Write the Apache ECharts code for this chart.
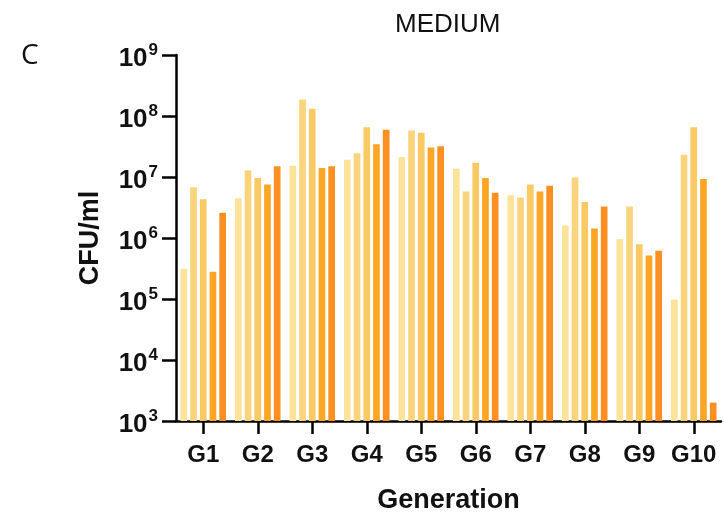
<!DOCTYPE html>
<html>
<head>
<meta charset="utf-8">
<script src="https://cdn.jsdelivr.net/npm/echarts@6/dist/echarts.min.js"></script>
<style>
html,body{margin:0;padding:0;background:#fff;}
#chart{width:724px;height:519px;}
</style>
</head>
<body>
<div id="chart"></div>
<script>
const categories = ['G1','G2','G3','G4','G5','G6','G7','G8','G9','G10'];
const rep1 = [3.1e5, 4.5e6, 1.53e7, 1.92e7, 2.12e7, 1.37e7, 5.0e6, 1.6e6, 9.5e5, 9.8e4];
const rep2 = [6.8e6, 1.28e7, 1.86e8, 2.46e7, 5.8e7, 5.8e6, 4.6e6, 9.8e6, 3.27e6, 2.32e7];
const rep3 = [4.3e6, 9.6e6, 1.31e8, 6.56e7, 5.3e7, 1.71e7, 7.5e6, 3.9e6, 7.9e5, 6.56e7];
const rep4 = [2.8e5, 7.5e6, 1.4e7, 3.45e7, 3.05e7, 9.6e6, 5.8e6, 1.43e6, 5.15e5, 9.25e6];
const rep5 = [2.6e6, 1.5e7, 1.5e7, 5.94e7, 3.2e7, 5.5e6, 7.2e6, 3.27e6, 6.2e5, 2.0e3];
const seriesNames = ['Rep 1','Rep 2','Rep 3','Rep 4','Rep 5'];
const seriesData = [rep1, rep2, rep3, rep4, rep5];
const colors = ['#FDE39A', '#FAD47C', '#F9C964', '#FDA626', '#FB8F21'];

const chart = echarts.init(document.getElementById('chart'), null, {renderer:'canvas'});
const FONT = '"Liberation Sans", Arial, Helvetica, sans-serif';

const option = {
  animation: false,
  backgroundColor: '#fff',
  title: [
    {text: 'MEDIUM', left: 390, top: 7, textStyle: {fontFamily: FONT, fontSize: 26, fontWeight: 'normal', color: '#111'}},
    {text: 'C', left: 16, top: 37, textStyle: {fontFamily: '"Open Sans", "Liberation Sans", sans-serif', fontSize: 28, fontWeight: 'normal', color: '#111'}}
  ],
  grid: {left: 176, right: 3, top: 55, bottom: 98, containLabel: false},
  xAxis: {
    type: 'category',
    data: categories,
    name: 'Generation',
    nameLocation: 'middle',
    nameGap: 66,
    nameTextStyle: {fontFamily: FONT, fontSize: 27, fontWeight: 'bold', color: '#111'},
    axisLine: {lineStyle: {color: '#000', width: 2.5}},
    axisTick: {show: true, alignWithLabel: true, length: 13, lineStyle: {color: '#000', width: 2.5}},
    axisLabel: {fontFamily: FONT, fontSize: 24, fontWeight: 'bold', color: '#111', margin: 22, interval: 0}
  },
  yAxis: {
    type: 'log',
    logBase: 10,
    min: 1e3,
    max: 1e9,
    name: 'CFU/ml',
    nameLocation: 'middle',
    nameGap: 72,
    nameRotate: 90,
    nameTextStyle: {fontFamily: FONT, fontSize: 27, fontWeight: 'bold', color: '#111'},
    axisLine: {show: true, lineStyle: {color: '#000', width: 2.5}},
    axisTick: {show: true, length: 14, lineStyle: {color: '#000', width: 2.5}},
    splitLine: {show: false},
    axisLabel: {
      margin: 18,
      formatter: function (v) {
        const e = Math.round(Math.log10(v));
        return '{b|10}{s|' + e + '}';
      },
      rich: {
        b: {fontFamily: FONT, fontSize: 26, fontWeight: 'bold', color: '#111', padding: [7, 0, 0, 0], verticalAlign: 'bottom'},
        s: {fontFamily: FONT, fontSize: 17, fontWeight: 'bold', color: '#111', padding: [3, 0, 0, 1], verticalAlign: 'top'}
      }
    }
  },
  series: seriesData.map((d, i) => ({
    name: seriesNames[i],
    type: 'bar',
    data: d,
    barWidth: 6.7,
    barGap: '45%',
    itemStyle: {color: colors[i]},
    clip: true
  }))
};
chart.setOption(option);
</script>
</body>
</html>
